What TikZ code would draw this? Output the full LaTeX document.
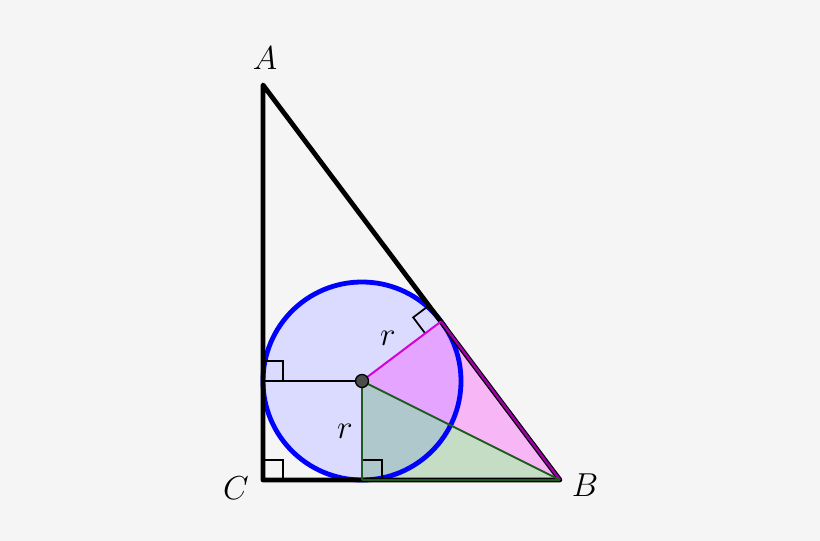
\documentclass[tikz,border=0pt]{standalone}
\usepackage{tikz}
\usetikzlibrary{calc}
\definecolor{magfill}{RGB}{255,0,255}
\definecolor{magline}{RGB}{215,0,215}
\definecolor{magedge}{RGB}{160,0,170}
\definecolor{grline}{RGB}{30,90,30}
\definecolor{bgc}{RGB}{245,245,245}
\begin{document}
\begin{tikzpicture}[x=0.75pt,y=-0.75pt,
  lbl/.style={font=\fontsize{27}{32}\selectfont},
  rlbl/.style={font=\fontsize{27}{30}\selectfont},
  tri/.style={line width=3.6pt,black,line join=round},
  rmark/.style={line width=1.3pt,black},
  thin/.style={line width=1.5pt}]
\fill[bgc] (0,0) rectangle (820,541);
\useasboundingbox (0,0) rectangle (820,541);
\coordinate (C) at (263,480);
\coordinate (A) at (263,85);
\coordinate (B) at (560,480);
\coordinate (I) at (362,381);
\coordinate (T) at (441,321.5);
\coordinate (L) at (263,381);
\coordinate (D) at (362,480);
% circle fill
\fill[blue!14] (I) circle (99);
% magenta triangle
\fill[magfill, opacity=0.25] (I) -- (T) -- (B) -- cycle;
% green triangle
\fill[green!50!black, opacity=0.2] (I) -- (D) -- (B) -- cycle;
% circle outline
\draw[blue, line width=3.6pt] (I) circle (99);
% right angle marks
\draw[rmark] (C) ++(0,-20) -- ++(20,0) -- ++(0,20);
\draw[rmark] (L) ++(0,-20) -- ++(20,0) -- ++(0,20);
\draw[rmark] (D) ++(0,-20) -- ++(20,0) -- ++(0,20);
\coordinate (t1) at ($(T)!0.2!(I)$);
\coordinate (t3) at ($(T)!0.0676!(A)$);
\coordinate (t2) at ($(t1)+(t3)-(T)$);
\draw[rmark] (t1) -- (t2) -- (t3);
% radius to left
\draw[thin,black] (L) -- (I);
% triangle
\draw[tri] (A) -- (C) -- (B) -- cycle;
% magenta lines
\draw[thin,magline] (I) -- (T);
\draw[line width=1.8pt,magedge] (T) -- (B);
% green lines
\draw[thin,grline] (I) -- (D);
\draw[thin,grline] (I) -- (B);
\draw[line width=1.8pt,grline] (D) -- (B);
% center
\fill[black!70, draw=black, line width=1pt] (I) circle (6.5);
% labels
\node[lbl] (la) at (265,58) {$A$};
\node[lbl] (lb) at (585,485) {$B$};
\node[lbl] (lc) at (236,488) {$C$};
\node[rlbl] (r1) at (388,338) {$r$};
\node[rlbl] (r2) at (345,431) {$r$};
\end{tikzpicture}
\end{document}
